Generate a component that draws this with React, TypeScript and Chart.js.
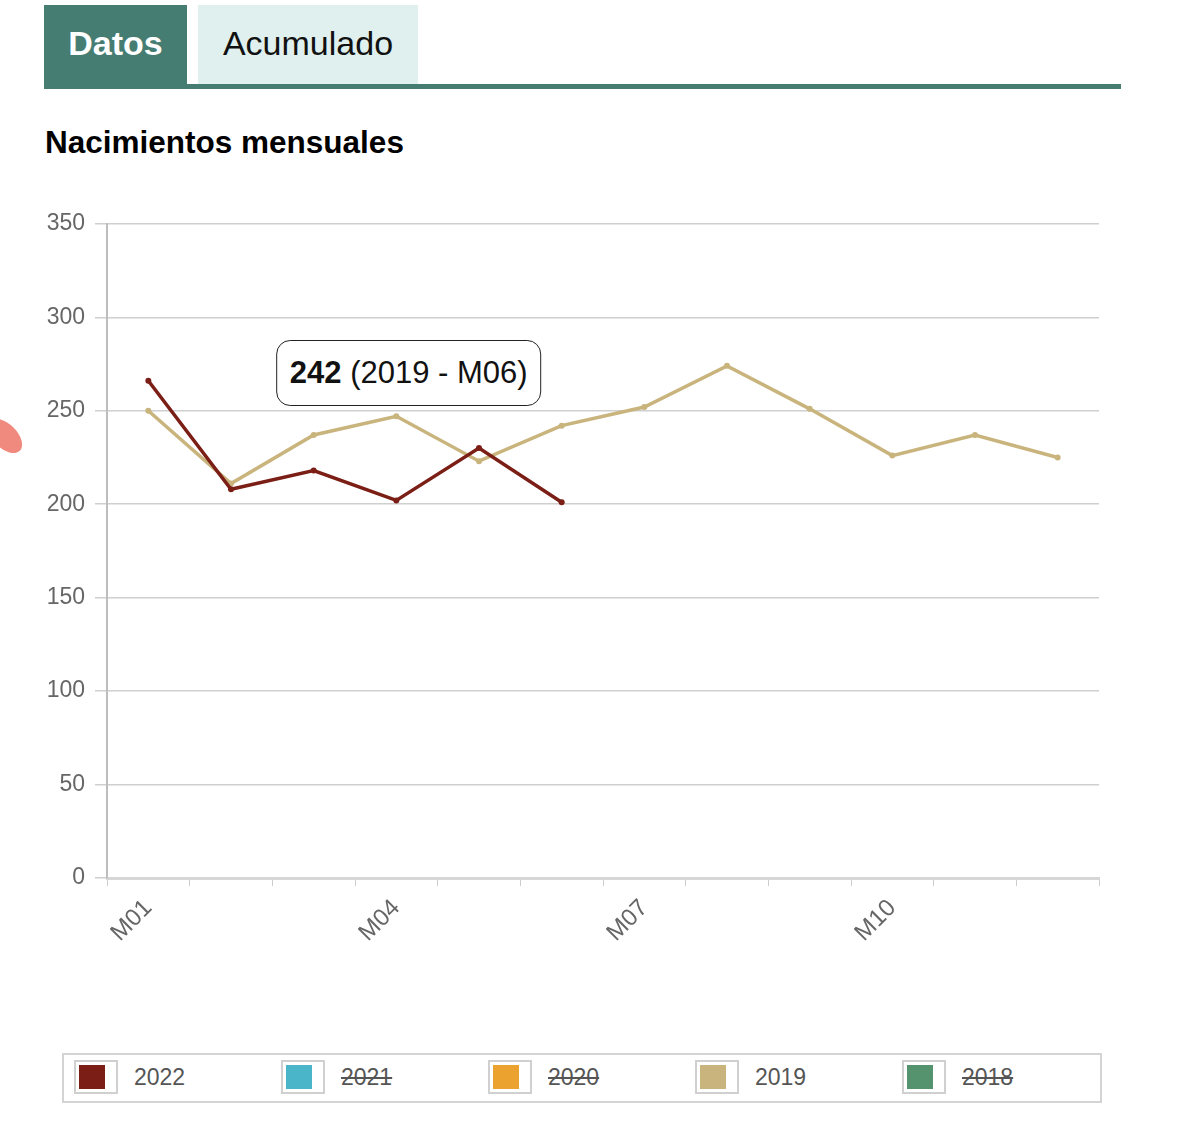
import React, { useEffect, useRef } from 'react';
import { Chart, registerables } from 'chart.js';

Chart.register(...registerables);

const FONT = '"Liberation Sans", Arial, Helvetica, sans-serif';

const months = ['M01', 'M02', 'M03', 'M04', 'M05', 'M06', 'M07', 'M08', 'M09', 'M10', 'M11', 'M12'];
const years = ['2022', '2021', '2020', '2019', '2018'];
const colors = ['#7a1e16', '#4ab4c8', '#eba22e', '#c8b47c', '#55936f'];
const hiddenYears = ['2021', '2020', '2018'];

const births2022 = [266, 208, 218, 202, 230, 201];
const births2019 = [250, 211, 237, 247, 223, 242, 252, 274, 251, 226, 237, 225];
const seriesData: Record<string, number[]> = {
    '2022': births2022,
    '2021': [],
    '2020': [],
    '2019': births2019,
    '2018': [],
};

// the tooltip that is open in the picture
const activeYear = '2019';
const activeMonth = 'M06';

const yTicks = [0, 50, 100, 150, 200, 250, 300, 350];

function NacimientosChart() {
    const canvasRef = useRef<HTMLCanvasElement | null>(null);
    const tipRef = useRef<HTMLDivElement | null>(null);
    const chartInstance = useRef<Chart | null>(null);

    useEffect(() => {
        if (!canvasRef.current) return;
        if (chartInstance.current) chartInstance.current.destroy();

        const ctx = canvasRef.current.getContext('2d');
        if (!ctx) return;

        chartInstance.current = new Chart(ctx, {
            type: 'line',
            data: {
                labels: months,
                datasets: years.map((y, i) => ({
                    label: y,
                    data: seriesData[y],
                    borderColor: colors[i],
                    backgroundColor: colors[i],
                    pointBackgroundColor: colors[i],
                    borderWidth: 3.5,
                    pointRadius: 3,
                    pointBorderWidth: 0,
                    tension: 0,
                    hidden: hiddenYears.includes(y),
                })),
            },
            options: {
                responsive: true,
                maintainAspectRatio: false,
                animation: false,
                events: [],
                layout: { padding: { top: 0, right: 21, left: 0, bottom: 0 } },
                plugins: {
                    legend: { display: false },
                    tooltip: {
                        enabled: false,
                        external: ({ tooltip }) => {
                            const el = tipRef.current;
                            if (!el) return;
                            if (tooltip.opacity === 0 || !tooltip.dataPoints || !tooltip.dataPoints.length) {
                                el.style.opacity = '0';
                                return;
                            }
                            const p = tooltip.dataPoints[0];
                            el.innerHTML = `<b>${p.raw}</b> (${p.dataset.label} - ${p.label})`;
                            el.style.left = tooltip.caretX - 20 + 'px';
                            el.style.top = tooltip.caretY - 20 + 'px';
                            el.style.opacity = '1';
                        },
                    },
                },
                scales: {
                    x: {
                        offset: true,
                        grid: { drawOnChartArea: false, tickLength: 8, color: '#cccccc', offset: true },
                        border: { color: '#d6d6d6', width: 3 },
                        ticks: {
                            autoSkip: false,
                            minRotation: 45,
                            maxRotation: 45,
                            padding: 8,
                            color: '#666',
                            font: { size: 24, family: FONT },
                            callback: (_v, i) => (i % 3 === 0 ? months[i] : ''),
                        },
                        afterFit: (s) => { s.height = 82; },
                    },
                    y: {
                        min: yTicks[0],
                        max: yTicks[yTicks.length - 1],
                        ticks: {
                            stepSize: 50,
                            padding: 10,
                            color: '#666',
                            font: { size: 23, family: FONT },
                        },
                        grid: { color: '#cfcfcf', tickLength: 12, lineWidth: 1.5 },
                        border: { color: '#bdbdbd', width: 2 },
                        afterFit: (s) => { s.width = 67; },
                    },
                },
            },
        });

        const chart = chartInstance.current;
        const dsIndex = years.indexOf(activeYear);
        const idx = months.indexOf(activeMonth);
        const pt = chart.getDatasetMeta(dsIndex).data[idx];
        chart.tooltip?.setActiveElements([{ datasetIndex: dsIndex, index: idx }], { x: pt.x, y: pt.y });
        chart.draw();

        return () => {
            if (chartInstance.current) {
                chartInstance.current.destroy();
                chartInstance.current = null;
            }
        };
    }, []);

    return (
        <div style={{ position: 'absolute', left: 40, top: 200, width: 1080, height: 760 }}>
            <canvas ref={canvasRef} />
            <div
                ref={tipRef}
                style={{
                    position: 'absolute',
                    opacity: 0,
                    transform: 'translate(-100%, -100%)',
                    background: '#fff',
                    border: '1.5px solid #222',
                    borderRadius: 14,
                    padding: '0 13px',
                    height: 64,
                    lineHeight: '64px',
                    fontSize: 31,
                    fontFamily: FONT,
                    color: '#111',
                    whiteSpace: 'nowrap',
                    pointerEvents: 'none',
                }}
            />
        </div>
    );
}

function Legend() {
    return (
        <div
            style={{
                position: 'absolute',
                left: 62,
                top: 1053,
                width: 1040,
                height: 50,
                border: '2px solid #d4d4d4',
                boxSizing: 'border-box',
            }}
        >
            {years.map((y, i) => (
                <div key={y} style={{ position: 'absolute', left: 10 + i * 207, top: 5, height: 34 }}>
                    <div
                        style={{
                            position: 'absolute',
                            left: 0,
                            top: 0,
                            width: 44,
                            height: 34,
                            border: '2px solid #d0d0d0',
                            boxSizing: 'border-box',
                            background: '#fff',
                        }}
                    >
                        <div
                            style={{
                                position: 'absolute',
                                left: 3,
                                top: 3,
                                width: 26,
                                height: 24,
                                background: colors[i],
                            }}
                        />
                    </div>
                    <span
                        style={{
                            position: 'absolute',
                            left: 60,
                            top: 0,
                            lineHeight: '34px',
                            fontSize: 23,
                            color: '#555',
                            whiteSpace: 'nowrap',
                            textDecoration: hiddenYears.includes(y) ? 'line-through' : 'none',
                        }}
                    >
                        {y}
                    </span>
                </div>
            ))}
        </div>
    );
}

export default function App() {
    const green = '#467d73';
    return (
        <div style={{ position: 'absolute', left: 0, top: 0, width: 1200, height: 1130, fontFamily: FONT, overflow: 'hidden' }}>
            <div
                style={{
                    position: 'absolute', left: -16, top: 424, width: 42, height: 24,
                    background: '#f08a7e', borderRadius: '50%', transform: 'rotate(45deg)',
                }}
            />
            <div
                style={{
                    position: 'absolute', left: 44, top: 5, width: 143, height: 84, background: green,
                    color: '#fff', fontWeight: 'bold', fontSize: 34, lineHeight: '76px', textAlign: 'center',
                }}
            >
                Datos
            </div>
            <div
                style={{
                    position: 'absolute', left: 198, top: 5, width: 220, height: 79, background: '#dff0ee',
                    color: '#111', fontSize: 34, lineHeight: '76px', textAlign: 'center',
                }}
            >
                Acumulado
            </div>
            <div style={{ position: 'absolute', left: 44, top: 84, width: 1077, height: 5, background: green }} />
            <div
                style={{
                    position: 'absolute', left: 45, top: 124, fontSize: 31.5, fontWeight: 'bold', color: '#000',
                    whiteSpace: 'nowrap',
                }}
            >
                Nacimientos mensuales
            </div>
            <NacimientosChart />
            <Legend />
        </div>
    );
}
